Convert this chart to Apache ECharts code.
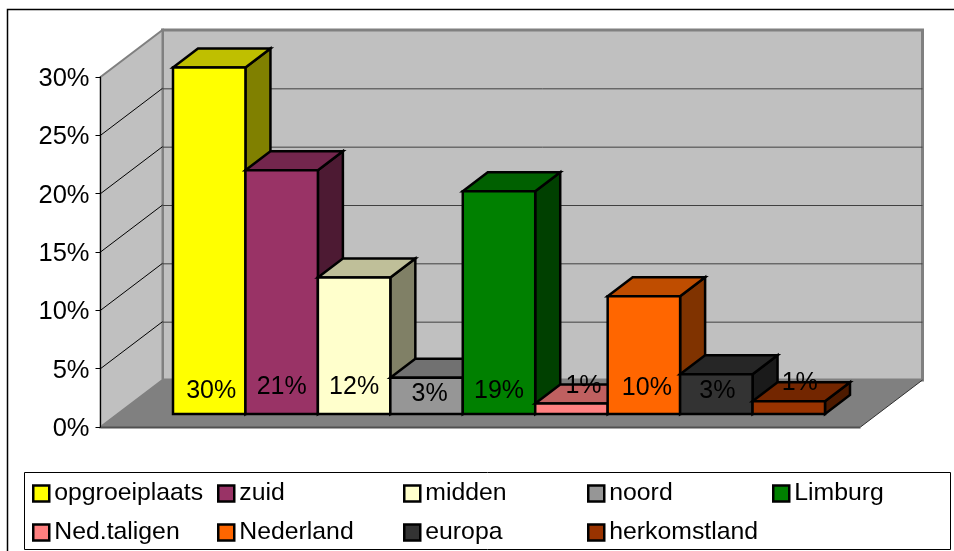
<!DOCTYPE html>
<html>
<head>
<meta charset="utf-8">
<title>opgroeiplaats</title>
<style>
html,body{margin:0;padding:0;background:#fff;}
#main{width:954px;height:551px;}
</style>
<script src="https://cdn.jsdelivr.net/npm/echarts@6/dist/echarts.min.js"></script>
</head>
<body>
<div id="main"></div>
<script>
// data
var categories = ['opgroeiplaats','zuid','midden','noord','Limburg','Ned.taligen','Nederland','europa','herkomstland'];
var values = [29.7, 20.9, 11.7, 3.1, 19.1, 0.9, 10.1, 3.4, 1.1];
var barColors = ['#ffff00','#993366','#ffffcc','#969696','#008000','#ff8080','#ff6600','#333333','#993300'];
var yTicks = [0, 5, 10, 15, 20, 25, 30];

// label placement, px from the bar's bottom centre
var labelShiftX = [2, 0, 0, 3, 0, 12, 3, 1, 11];
var labelLift = [23, 27, 27, 20, 23, 28, 26, 23, 31];

// 3d look
var FONT = '"Liberation Sans", Arial, sans-serif';
var WALL_DX = 62, WALL_DY = 47;
var BAR_DX = 25, BAR_DY = 19;

function shade(hex, k){
    var n = parseInt(hex.slice(1), 16);
    var r = Math.round((n >> 16 & 255) * k), g = Math.round((n >> 8 & 255) * k), b = Math.round((n & 255) * k);
    return 'rgb(' + r + ',' + g + ',' + b + ')';
}

function renderWalls(params, api){
    var a = api.coord([0, 0]), b = api.coord([1, 0]), t = api.coord([0, 30]);
    var bx = a[0] + WALL_DX, by = a[1] - WALL_DY, topY = t[1] - WALL_DY, rx = b[0] + WALL_DX;
    var kids = [
        {type:'rect', shape:{x:bx, y:topY, width:rx-bx, height:by-topY}, style:{fill:'#c0c0c0', stroke:'#808080', lineWidth:3}},
        {type:'polygon', shape:{points:[[a[0],t[1]],[bx,topY],[bx,by],[a[0],a[1]]]}, style:{fill:'#c0c0c0', stroke:'#808080', lineWidth:2}},
        {type:'polygon', shape:{points:[a,b,[rx,by],[bx,by]]}, style:{fill:'#808080'}},
        {type:'line', shape:{x1:a[0], y1:a[1]+0.5, x2:b[0], y2:b[1]+0.5}, style:{stroke:'#505050', lineWidth:2}},
        {type:'line', shape:{x1:b[0], y1:b[1], x2:rx, y2:by}, style:{stroke:'#303030', lineWidth:1}}
    ];
    return {type:'group', children:kids};
}

function renderGrid(params, api){
    var p = api.coord([0, api.value(1)]), q = api.coord([1, api.value(1)]);
    return {type:'group', children:[
        {type:'line', shape:{x1:p[0], y1:p[1], x2:p[0]+WALL_DX, y2:p[1]-WALL_DY}, style:{stroke:'#000', lineWidth:1}},
        {type:'line', shape:{x1:p[0]+WALL_DX, y1:p[1]-WALL_DY+0.5, x2:q[0]+WALL_DX, y2:q[1]-WALL_DY+0.5}, style:{stroke:'#404040', lineWidth:1}}
    ]};
}

function renderBar(params, api){
    var i = api.value(0), v = api.value(1);
    var base = api.coord([i, 0]), top = api.coord([i, v]);
    var w = api.size([1, 0])[0];
    var l = base[0] - w / 2, r = base[0] + w / 2;
    var col = barColors[i];
    var line = {stroke:'#000', lineWidth:2.5, lineJoin:'miter'};
    return {type:'group', children:[
        {type:'polygon', shape:{points:[[r,top[1]],[r+BAR_DX,top[1]-BAR_DY],[r+BAR_DX,base[1]-BAR_DY],[r,base[1]]]},
            style:Object.assign({fill:shade(col,0.5)}, line)},
        {type:'polygon', shape:{points:[[l,top[1]],[l+BAR_DX,top[1]-BAR_DY],[r+BAR_DX,top[1]-BAR_DY],[r,top[1]]]},
            style:Object.assign({fill:shade(col,0.75)}, line)},
        {type:'rect', shape:{x:l, y:top[1], width:w, height:base[1]-top[1]},
            style:Object.assign({fill:col}, line)},
        {type:'text', x:base[0]+labelShiftX[i], y:base[1]-labelLift[i],
            style:{text:Math.round(v)+'%', fill:'#000', font:'25px '+FONT, textAlign:'center', textVerticalAlign:'middle'}}
    ]};
}

var series = [
    {type:'custom', name:'walls', xAxisIndex:0, yAxisIndex:0, z:1, silent:true, renderItem:renderWalls, data:[[0,0]]},
    {type:'custom', name:'gridlines', xAxisIndex:0, yAxisIndex:0, z:2, silent:true, renderItem:renderGrid,
        data:yTicks.slice(1,-1).map(function(t){return [0,t];})}
];
categories.forEach(function(name, i){
    series.push({type:'custom', name:name, xAxisIndex:1, yAxisIndex:1, z:4, silent:true,
        itemStyle:{color:barColors[i]}, renderItem:renderBar, encode:{x:0, y:1}, data:[[i, values[i]]]});
});

// legend columns
var legendLeft = [32, 217, 403, 587, 772];
var legends = legendLeft.map(function(left, c){
    var names = [categories[c]];
    if (categories[c+5]) names.push(categories[c+5]);
    return {data:names, orient:'vertical', left:left, top:481, padding:0, icon:'rect', selectedMode:false,
        itemWidth:16, itemHeight:16, itemGap:14,
        itemStyle:{borderColor:'#000', borderWidth:2.5},
        textStyle:{fontFamily:FONT, fontSize:24.8, color:'#000'}};
});

var myChart = echarts.init(document.getElementById('main'), null, {renderer:'canvas'});
myChart.setOption({
    animation:false,
    backgroundColor:'#fff',
    graphic:[
        {type:'rect', z:-1, shape:{x:7.5,y:9.5,width:970,height:570}, style:{fill:'#fff', stroke:'#000', lineWidth:1.5}},
        {type:'rect', z:-1, shape:{x:24.5,y:472.5,width:926,height:77}, style:{fill:'#fff', stroke:'#000', lineWidth:1}}
    ],
    grid:[
        {left:100.5, top:77, width:760, height:350},
        {left:173, top:64, width:652, height:350}
    ],
    xAxis:[
        {gridIndex:0, type:'value', min:0, max:1, show:false},
        {gridIndex:1, type:'category', data:categories, show:false}
    ],
    yAxis:[
        {gridIndex:0, type:'value', min:0, max:30, interval:5, z:3,
            axisLine:{show:true, lineStyle:{color:'#000', width:1}},
            axisTick:{show:true, length:5, lineStyle:{color:'#000', width:1}},
            splitLine:{show:false},
            axisLabel:{formatter:'{t|{value}%}', margin:11,
                rich:{t:{color:'#000', fontFamily:FONT, fontSize:25.5, padding:[4,0,0,0]}}}},
        {gridIndex:1, type:'value', min:0, max:30, show:false}
    ],
    legend:legends,
    series:series
});
</script>
</body>
</html>
